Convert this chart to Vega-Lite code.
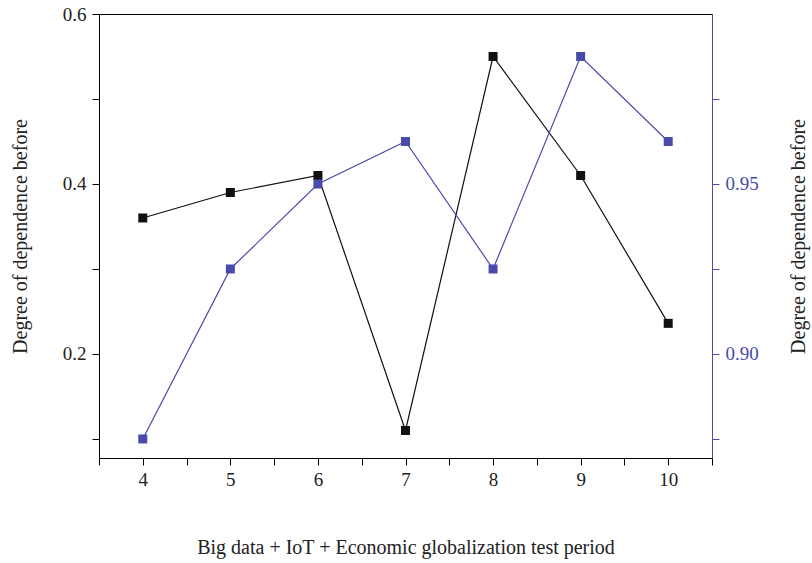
{
  "$schema": "https://vega.github.io/schema/vega-lite/v6.json",
  "width": 613,
  "height": 444,
  "autosize": "none",
  "padding": {"left": 99, "top": 14, "right": 100, "bottom": 105},
  "background": "white",
  "config": {
    "view": {"stroke": "black", "strokeWidth": 1},
    "font": "Liberation Serif",
    "axis": {"labelFont": "Liberation Serif", "titleFont": "Liberation Serif", "labelFontSize": 19, "titleFontSize": 20, "titleFontWeight": "normal", "grid": false, "tickSize": 7, "labelColor": "#222", "titleColor": "#222", "domainColor": "black", "tickColor": "black", "labelOverlap": false}
  },
  "data": {"values": [
    {"period": 4, "black": 0.36, "blue": 0.875},
    {"period": 5, "black": 0.39, "blue": 0.925},
    {"period": 6, "black": 0.41, "blue": 0.95},
    {"period": 7, "black": 0.11, "blue": 0.9625},
    {"period": 8, "black": 0.55, "blue": 0.925},
    {"period": 9, "black": 0.41, "blue": 0.9875},
    {"period": 10, "black": 0.236, "blue": 0.9625}
  ]},
  "encoding": {
    "x": {"field": "period", "type": "quantitative",
      "scale": {"domain": [3.5, 10.5], "nice": false, "zero": false},
      "axis": {"title": "Big data + IoT + Economic globalization test period", "values": [3.5,4,4.5,5,5.5,6,6.5,7,7.5,8,8.5,9,9.5,10,10.5],
        "labelExpr": "datum.value % 1 == 0 ? format(datum.value, 'd') : ''", "labelPadding": 5, "titlePadding": 48, "labelFlush": false}}
  },
  "layer": [
    {
      "encoding": {"y": {"field": "black", "type": "quantitative",
        "scale": {"domain": [0.0776, 0.6], "nice": false, "zero": false},
        "axis": {"orient": "left", "title": "Degree of dependence before", "values": [0.1,0.2,0.3,0.4,0.5,0.6], "format": ".1f",
          "labelExpr": "round(datum.value*10) % 2 == 0 ? datum.label : ''", "titlePadding": 32, "labelPadding": 6, "labelFlush": false}}},
      "layer": [
        {"mark": {"type": "line", "color": "#111", "strokeWidth": 1.2}},
        {"mark": {"type": "point", "shape": "square", "filled": true, "size": 81, "color": "#111", "opacity": 1}}
      ]
    },
    {
      "encoding": {"y": {"field": "blue", "type": "quantitative",
        "scale": {"domain": [0.8694, 1.0], "nice": false, "zero": false},
        "axis": {"orient": "right", "title": "Degree of dependence before", "titleAngle": 270, "values": [0.875,0.9,0.925,0.95,0.975], "format": ".2f",
          "labelExpr": "round(datum.value*1000) % 50 == 0 ? datum.label : ''", "domainColor": "#4a4aaa", "tickColor": "#4a4aaa", "labelColor": "#4a4aaa", "titleColor": "#222", "titlePadding": 50, "labelPadding": 6, "labelFlush": false}}},
      "layer": [
        {"mark": {"type": "line", "color": "#4a4aaa", "strokeWidth": 1.2}},
        {"mark": {"type": "point", "shape": "square", "filled": true, "size": 81, "color": "#4a4aaa", "opacity": 1}}
      ]
    }
  ],
  "resolve": {"scale": {"y": "independent"}}
}
